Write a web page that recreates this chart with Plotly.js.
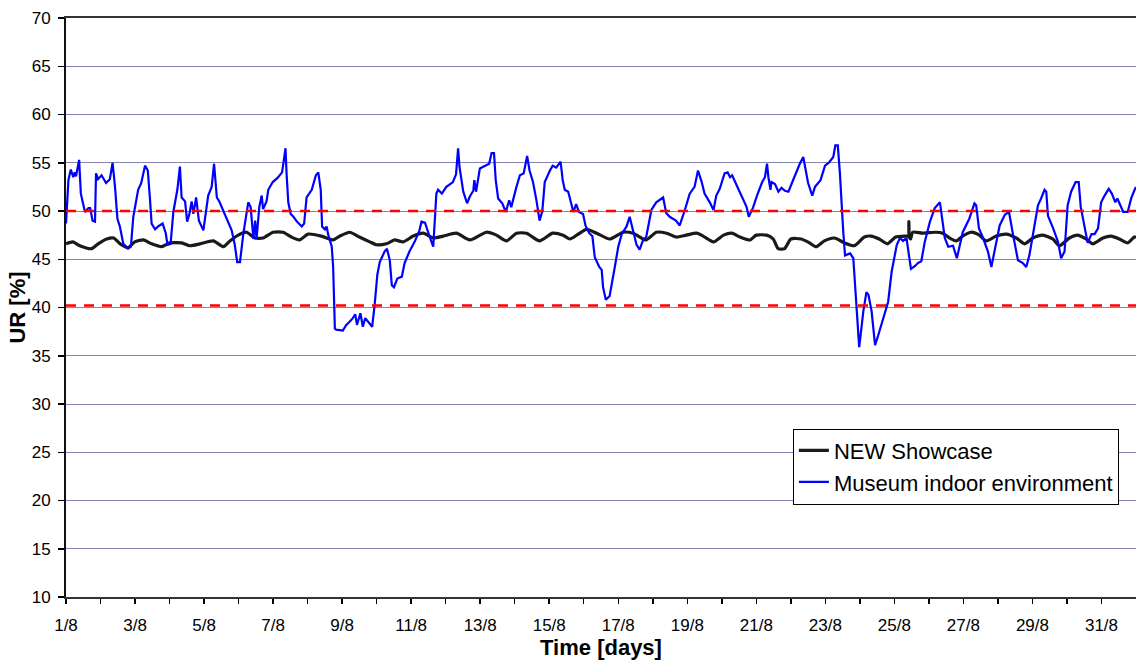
<!DOCTYPE html>
<html>
<head>
<meta charset="utf-8">
<script src="https://cdn.plot.ly/plotly-3.0.1.min.js"></script>
<style>html,body{margin:0;padding:0;background:#fff;}#chart{width:1136px;height:660px;}</style>
</head>
<body>
<div id="chart"></div>
<script>
// Time in days since 1/8 00:00
const tickDays = [0,1,2,3,4,5,6,7,8,9,10,11,12,13,14,15,16,17,18,19,20,21,22,23,24,25,26,27,28,29,30];
const tickLabels = ["1/8","","3/8","","5/8","","7/8","","9/8","","11/8","","13/8","","15/8","","17/8","","19/8","","21/8","","23/8","","25/8","","27/8","","29/8","","31/8"];

// NEW Showcase (black)
const showcaseDays = [0.00,0.20,0.40,0.74,0.93,1.18,1.38,1.57,1.80,1.99,2.24,2.48,2.77,3.01,3.35,3.59,3.88,4.27,4.56,4.75,4.99,5.23,5.47,5.71,6.00,6.29,6.53,6.77,7.01,7.40,7.74,7.93,8.22,8.50,8.80,9.00,9.28,9.52,9.77,10.06,10.35,10.64,10.93,11.31,11.70,12.18,12.47,12.76,13.05,13.34,13.72,14.10,14.40,14.60,14.84,15.08,15.37,15.75,16.14,16.43,16.80,17.10,17.40,17.68,17.97,18.27,18.46,18.76,19.05,19.29,19.53,19.82,20.00,20.30,20.49,20.63,20.82,21.00,21.30,21.54,21.73,21.97,22.26,22.55,22.84,23.13,23.32,23.56,23.80,24.04,24.33,24.41,24.42,24.43,24.47,24.53,24.82,25.20,25.40,25.60,25.79,25.98,26.22,26.46,26.66,26.95,27.24,27.53,27.77,28.01,28.30,28.59,28.78,29.07,29.31,29.55,29.75,30.04,30.28,30.52,30.76,30.95,31.00];
const showcaseRH = [46.6,46.8,46.4,46.1,46.6,47.1,47.2,46.6,46.2,46.8,47.0,46.6,46.3,46.7,46.7,46.4,46.6,46.9,46.3,46.9,47.5,47.8,47.2,47.2,47.8,47.8,47.3,47.0,47.6,47.4,47.0,47.4,47.8,47.3,46.8,46.5,46.6,47.0,46.8,47.4,47.7,47.2,47.4,47.7,47.0,47.8,47.5,46.9,47.7,47.7,46.9,47.7,47.5,47.1,47.6,48.1,47.7,47.1,47.8,47.7,47.0,47.8,47.7,47.3,47.5,47.7,47.4,46.8,47.5,47.7,47.3,47.0,47.5,47.5,47.1,46.1,46.1,47.1,47.1,46.7,46.3,46.9,47.2,46.7,46.4,47.3,47.4,47.1,46.6,47.3,47.4,47.4,48.9,47.3,47.1,47.8,47.7,47.8,47.7,47.2,46.9,47.4,47.8,47.5,46.9,47.4,47.6,47.2,46.6,47.2,47.5,47.1,46.4,47.2,47.5,47.1,46.6,47.2,47.4,47.1,46.7,47.3,47.3];

// Museum indoor environment (blue)
const museumDays = [0.00,0.07,0.14,0.21,0.25,0.29,0.38,0.43,0.55,0.65,0.70,0.77,0.84,0.87,0.93,1.03,1.16,1.27,1.35,1.42,1.49,1.56,1.66,1.80,1.88,1.95,2.09,2.18,2.29,2.37,2.43,2.48,2.58,2.67,2.80,2.89,2.94,3.03,3.11,3.23,3.30,3.35,3.45,3.51,3.57,3.64,3.69,3.77,3.85,3.98,4.12,4.22,4.29,4.37,4.44,4.56,4.70,4.80,4.89,4.96,5.04,5.14,5.28,5.35,5.43,5.48,5.52,5.60,5.67,5.71,5.81,5.86,5.99,6.12,6.26,6.32,6.36,6.39,6.44,6.51,6.59,6.69,6.83,6.90,6.97,7.12,7.24,7.31,7.38,7.42,7.50,7.55,7.60,7.70,7.74,7.79,7.83,8.02,8.12,8.21,8.31,8.38,8.43,8.53,8.60,8.67,8.77,8.87,8.94,9.02,9.09,9.23,9.30,9.38,9.44,9.50,9.60,9.73,9.81,9.95,10.10,10.24,10.30,10.40,10.54,10.64,10.73,10.78,10.89,11.02,11.21,11.30,11.36,11.40,11.51,11.62,11.70,11.80,11.83,11.88,11.99,12.13,12.26,12.33,12.40,12.45,12.52,12.64,12.74,12.84,12.90,13.05,13.15,13.26,13.36,13.43,13.53,13.63,13.72,13.80,13.87,14.02,14.10,14.20,14.33,14.39,14.45,14.55,14.64,14.70,14.78,14.86,14.98,15.05,15.16,15.25,15.32,15.45,15.52,15.56,15.64,15.75,15.90,16.00,16.10,16.24,16.33,16.43,16.53,16.62,16.72,16.81,16.96,17.10,17.30,17.39,17.49,17.67,17.78,17.93,18.07,18.21,18.31,18.41,18.50,18.65,18.76,18.84,18.94,19.08,19.17,19.24,19.30,19.40,19.57,19.72,19.78,19.90,20.02,20.17,20.25,20.31,20.35,20.41,20.44,20.54,20.64,20.73,20.83,20.93,21.02,21.17,21.26,21.36,21.41,21.50,21.62,21.70,21.86,21.99,22.10,22.23,22.29,22.36,22.42,22.47,22.52,22.57,22.72,22.81,22.91,22.98,23.03,23.10,23.19,23.25,23.34,23.44,23.53,23.68,23.82,23.92,24.07,24.16,24.25,24.35,24.40,24.48,24.60,24.68,24.78,24.88,25.03,25.17,25.32,25.38,25.46,25.56,25.70,25.81,25.98,26.17,26.32,26.37,26.45,26.57,26.71,26.81,26.90,27.05,27.20,27.32,27.44,27.58,27.72,27.82,27.91,28.06,28.16,28.25,28.35,28.40,28.45,28.60,28.74,28.83,28.93,29.02,29.12,29.25,29.34,29.40,29.51,29.60,29.71,29.80,29.90,29.99,30.09,30.21,30.30,30.40,30.46,30.63,30.76,30.86,30.96,31.00];
const museumRH = [48.7,53.2,54.3,53.5,54.0,53.6,55.3,51.8,49.9,50.3,50.3,49.0,48.9,53.9,53.3,53.7,52.9,53.3,55.0,52.5,49.2,48.4,46.6,46.1,46.3,49.4,52.2,52.9,54.7,54.2,51.4,48.7,48.1,48.4,48.7,47.7,46.5,46.6,49.9,52.3,54.6,51.4,51.0,48.9,49.6,51.0,49.7,51.4,49.0,48.0,51.6,52.5,54.9,51.4,51.0,50.0,48.9,48.0,46.5,44.7,44.7,47.7,50.9,50.4,47.1,49.0,47.1,50.4,51.6,50.2,51.0,52.2,53.0,53.4,54.0,55.3,56.5,53.9,50.9,49.7,49.4,48.9,48.4,48.7,51.4,52.2,53.7,54.0,52.2,48.4,48.1,48.4,47.5,46.3,44.2,37.8,37.7,37.6,38.2,38.5,38.9,39.3,38.2,39.4,38.0,38.9,38.5,38.0,40.2,43.4,44.7,45.8,46.1,44.9,42.3,42.1,43.0,43.2,44.6,45.8,46.8,48.0,48.9,48.8,47.3,46.3,51.8,52.2,51.8,52.5,53.0,53.8,56.5,54.6,52.0,50.8,51.5,52.1,53.2,52.0,54.4,54.7,54.9,56.0,56.0,53.2,51.3,50.8,49.9,51.1,50.4,52.5,53.7,53.9,55.7,54.2,53.0,51.1,49.0,50.0,53.0,54.2,54.7,54.5,55.1,53.2,52.2,52.0,50.8,49.9,50.7,49.9,49.7,48.5,47.7,47.4,45.2,44.2,43.9,42.1,40.8,41.2,44.2,46.3,47.6,48.4,49.4,47.9,46.5,46.0,47.0,47.3,50.1,50.9,51.4,49.8,49.4,49.0,48.5,50.1,51.8,52.5,54.2,53.1,51.8,50.9,50.1,51.6,52.3,53.9,54.0,53.5,53.7,52.9,51.6,50.4,49.4,50.3,51.6,53.0,53.5,54.9,53.5,52.2,53.0,52.8,52.0,52.4,52.1,52.0,52.8,54.2,54.9,55.6,54.7,52.9,51.6,52.5,53.2,54.7,55.0,55.6,56.8,56.8,54.0,50.6,47.8,45.4,45.6,45.1,40.2,35.9,37.4,39.6,41.6,41.3,39.6,36.1,37.1,38.9,40.6,43.7,46.5,47.2,46.9,47.2,45.8,44.0,44.3,44.6,44.8,46.8,48.9,50.3,50.9,49.5,47.2,46.3,46.4,45.1,47.8,49.2,50.8,50.6,48.2,47.2,45.8,44.2,45.8,48.5,49.6,49.9,47.5,44.9,44.6,44.2,45.4,48.5,50.6,51.3,52.2,52.0,49.5,48.2,46.8,45.1,45.8,50.6,52.0,53.0,53.0,50.4,48.2,46.7,47.6,47.6,48.2,50.9,51.6,52.3,51.8,50.9,51.3,49.9,49.9,51.3,52.2,52.5];

// Limit lines
const limitDays = [0, 31];
const upperLimit = [50.0, 50.0];
const lowerLimit = [40.2, 40.2];

const FONT = '"Liberation Sans", Arial, sans-serif';

const traces = [
  {x: showcaseDays, y: showcaseRH, type: 'scatter', mode: 'lines', name: 'NEW Showcase',
   line: {color: '#1a1a1a', width: 3.2, shape: 'spline', smoothing: 0.6}},
  {x: museumDays, y: museumRH, type: 'scatter', mode: 'lines', name: 'Museum indoor environment',
   line: {color: '#0000ff', width: 2.2}},
  {x: limitDays, y: upperLimit, type: 'scatter', mode: 'lines', showlegend: false, hoverinfo: 'skip',
   line: {color: '#ff0000', width: 2.5, dash: '10px,8px'}},
  {x: limitDays, y: lowerLimit, type: 'scatter', mode: 'lines', showlegend: false, hoverinfo: 'skip',
   line: {color: '#ff0000', width: 2.5, dash: '10px,8px'}}
];

const layout = {
  width: 1136, height: 660,
  margin: {l: 66, r: 0, t: 18, b: 63, pad: 0},
  paper_bgcolor: '#ffffff', plot_bgcolor: '#ffffff',
  font: {family: FONT, size: 17, color: '#000'},
  showlegend: true,
  legend: {
    x: 0.984, xanchor: 'right', y: 0.291, yanchor: 'top',
    bgcolor: '#ffffff', bordercolor: '#000', borderwidth: 1,
    font: {family: FONT, size: 22, color: '#000'},
    itemwidth: 30, tracegroupgap: 0
  },
  xaxis: {
    range: [0, 31], tickmode: 'array', tickvals: tickDays, ticktext: tickLabels,
    ticks: 'outside', ticklen: 5, tickwidth: 1.5, tickcolor: '#000',
    showline: true, linecolor: '#333', linewidth: 2, mirror: true,
    showgrid: false, zeroline: false, ticklabelstandoff: 7,
    tickfont: {family: FONT, size: 17, color: '#000'},
    title: {text: '<b>Time [days]</b>', font: {family: FONT, size: 22, color: '#000'}, standoff: 0}
  },
  yaxis: {
    range: [10, 70], tickmode: 'linear', tick0: 10, dtick: 5,
    ticks: 'outside', ticklen: 6, tickwidth: 1.5, tickcolor: '#000',
    showline: true, linecolor: '#111', linewidth: 2,
    showgrid: true, gridcolor: '#8585b5', gridwidth: 1, zeroline: false,
    ticklabelstandoff: 4,
    tickfont: {family: FONT, size: 17, color: '#000'},
    title: {text: '<b>UR [%]</b>', font: {family: FONT, size: 22, color: '#000'}, standoff: 0}
  }
};

Plotly.newPlot('chart', traces, layout, {displayModeBar: false, staticPlot: true});
</script>
</body>
</html>
